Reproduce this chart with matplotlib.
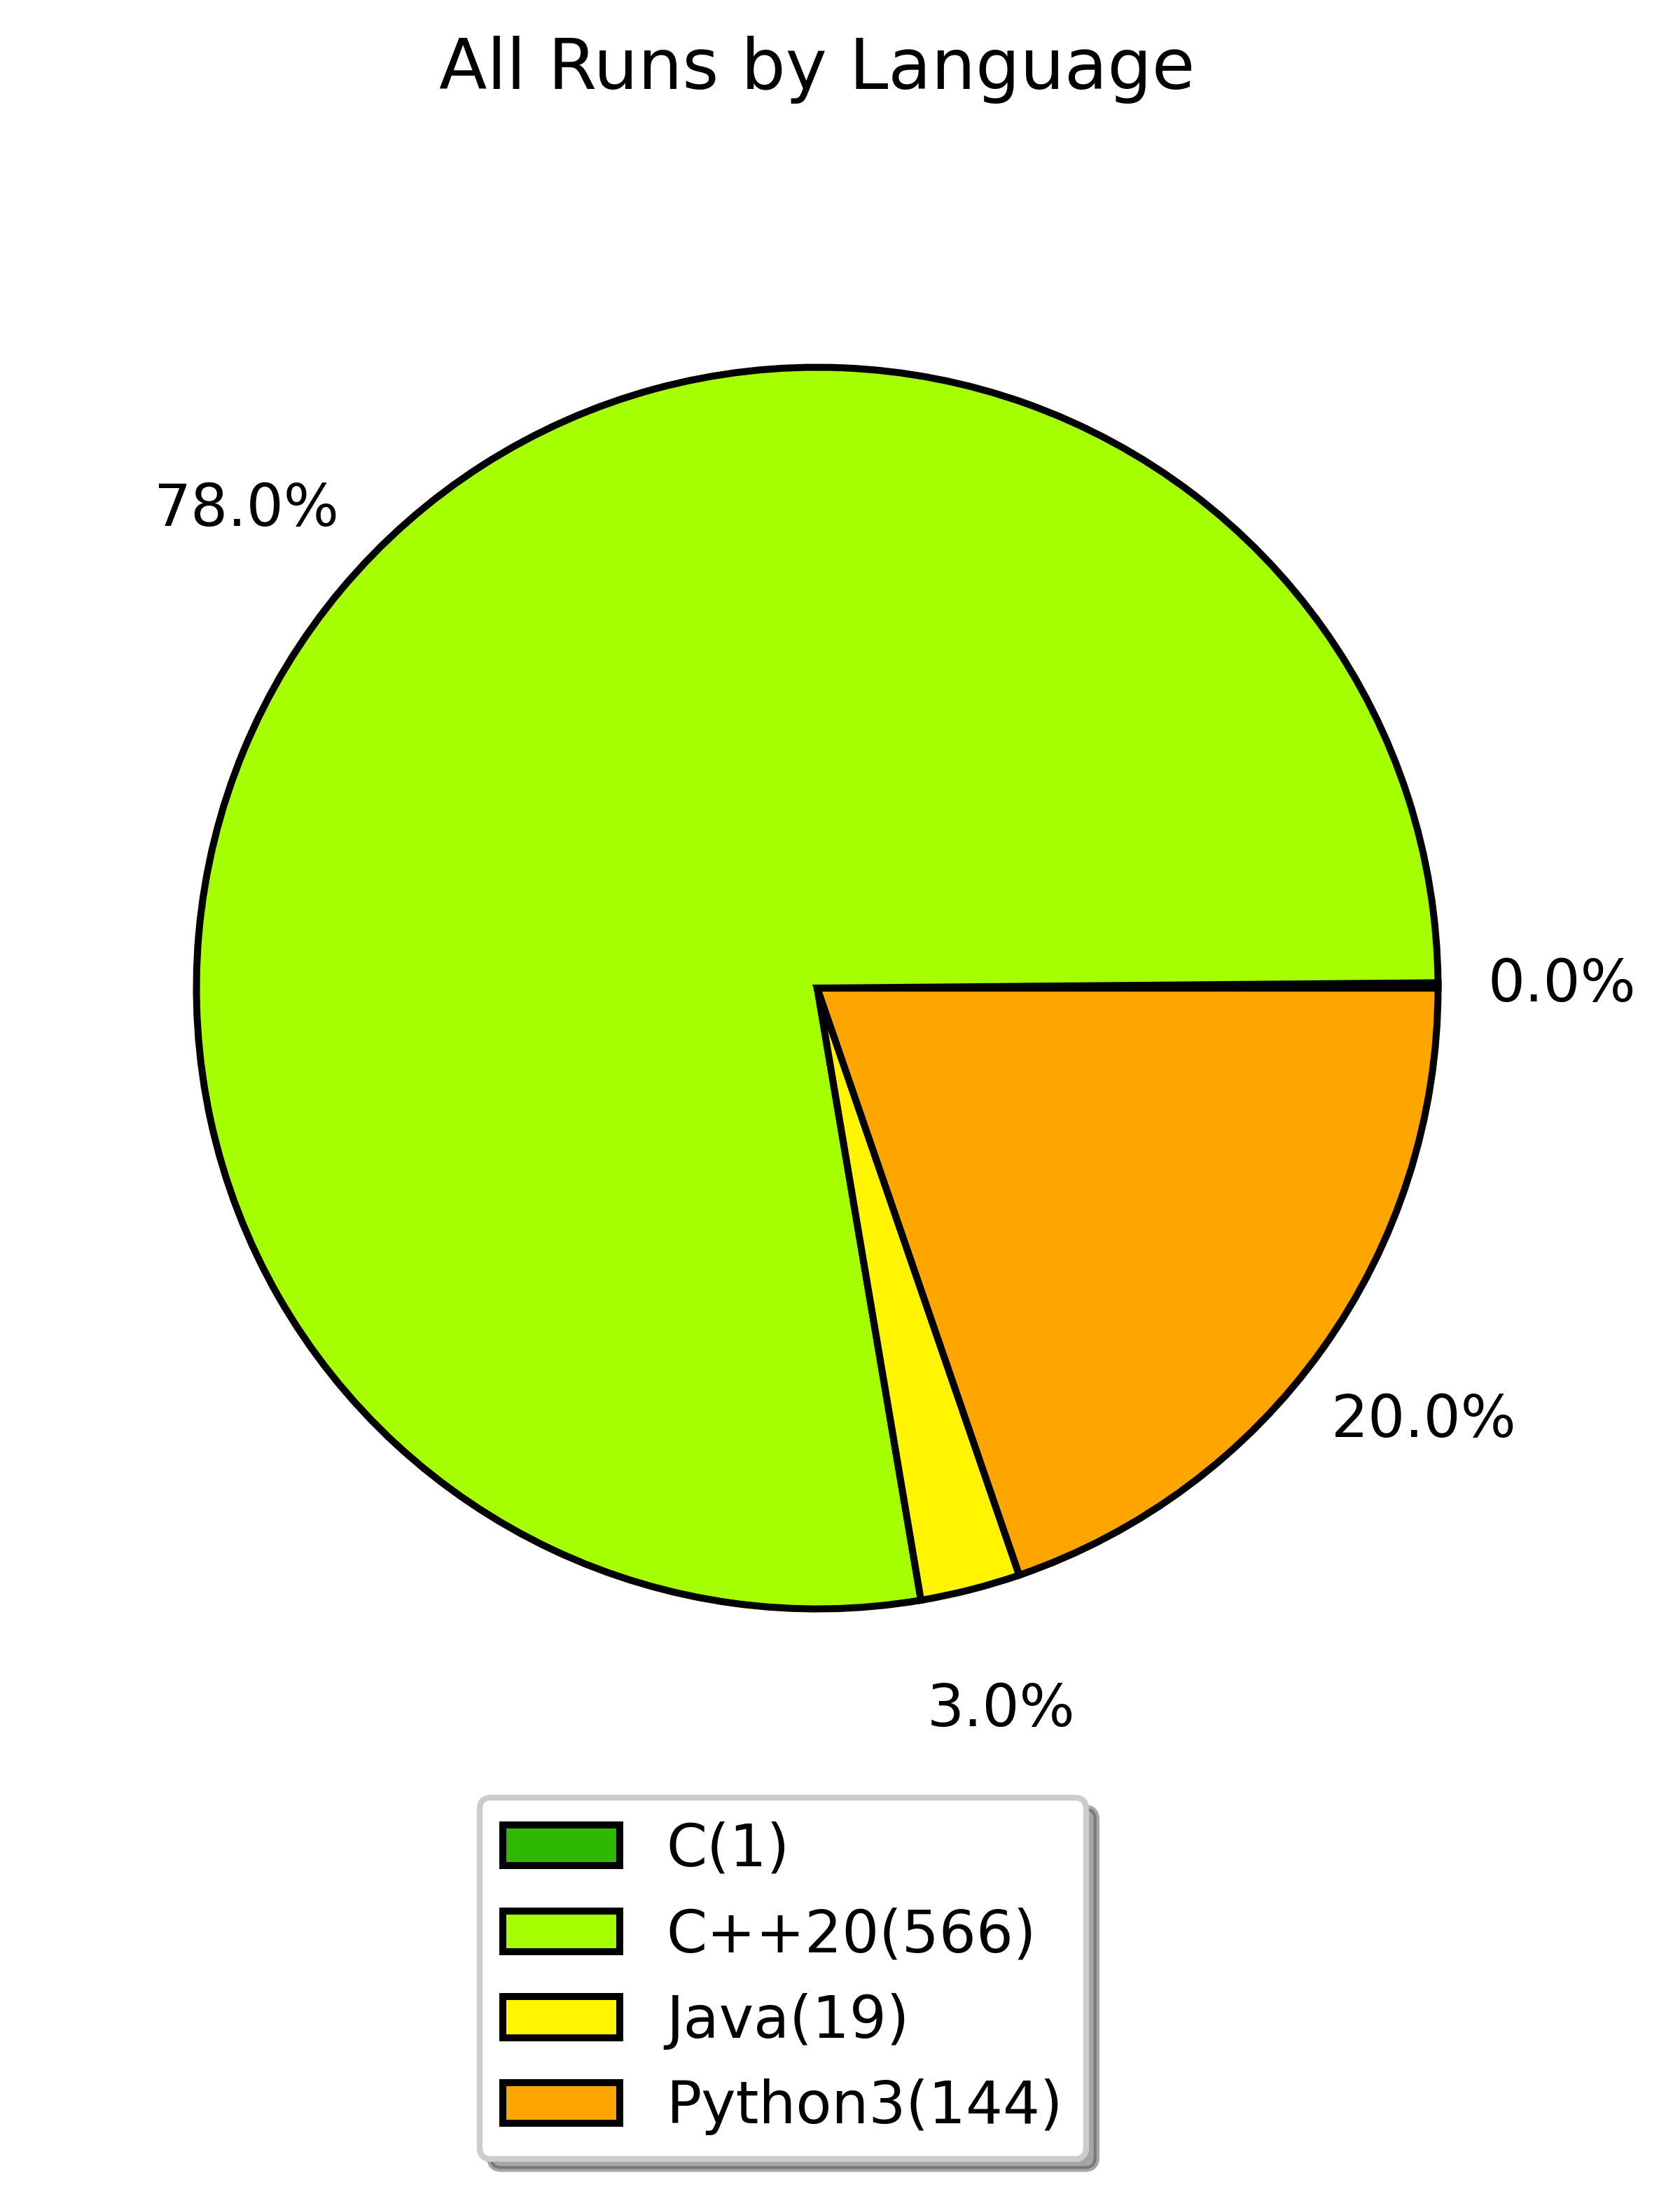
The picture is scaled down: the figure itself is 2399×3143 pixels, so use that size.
import matplotlib
matplotlib.use("Agg")
import matplotlib.pyplot as plt
from matplotlib.patches import Shadow

languages = ["C", "C++20", "Java", "Python3"]
runs = [1, 566, 19, 144]
colors = ["#2cb900", "#a6ff00", "#fff500", "#ffa500"]

W, H, DPI = 2399, 3143, 300
fig = plt.figure(figsize=(W / DPI, H / DPI), dpi=DPI)

cx, cy, r = 1167, 1411, 886.5
half = 1.25 * r
ax = fig.add_axes([(cx - half) / W, (H - cy - half) / H, 2 * half / W, 2 * half / H])

wedges, texts, autotexts = ax.pie(
    runs,
    colors=colors,
    startangle=0,
    autopct=lambda p: f"{round(p):.1f}%",
    pctdistance=1.2,
    wedgeprops=dict(edgecolor="black", linewidth=2.4),
    textprops=dict(fontsize=20),
)
ax.set_xlim(-1.25, 1.25)
ax.set_ylim(-1.25, 1.25)
ax.set_aspect("equal")

fig.text(cx / W, 1 - 100 / H, "All Runs by Language", ha="center", va="center", fontsize=24)

labels = [f"{lang}({n})" for lang, n in zip(languages, runs)]
leg = fig.legend(wedges, labels, loc="upper center",
                 bbox_to_anchor=(1118 / W, 1 - 2567 / H), borderaxespad=0,
                 fontsize=20, shadow=False, fancybox=True, framealpha=1)
frame = leg.get_frame()
frame.set_linewidth(2)

# a slightly larger drop shadow than the default legend one
fig.canvas.draw()
sh = Shadow(frame, 3.5, -3.5)
sh.set_zorder(leg.get_zorder() - 0.1)
fig.add_artist(sh)

fig.savefig("out.png", dpi=DPI)
